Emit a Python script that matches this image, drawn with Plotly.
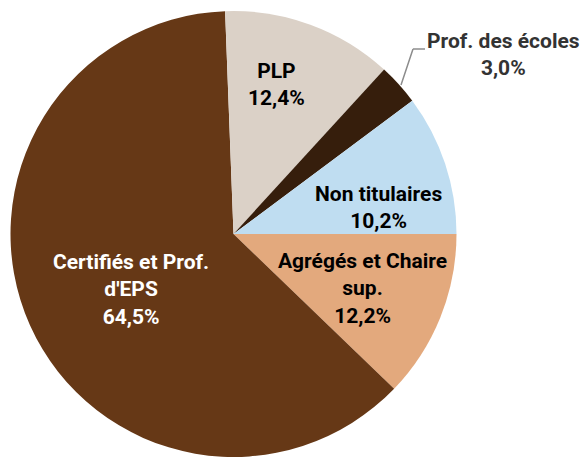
import plotly.graph_objects as go

# Data
categories = ["Agrégés et Chaire sup.", "Certifiés et Prof. d'EPS", "PLP",
              "Prof. des écoles", "Non titulaires"]
slice_shares = [12.2, 62.2, 12.4, 3.0, 10.2]
pct_labels = ["12,2%", "64,5%", "12,4%", "3,0%", "10,2%"]  # printed percentages
display_names = ["Agrégés et Chaire<br>sup.", "Certifiés et Prof.<br>d'EPS", "PLP",
                 "Prof. des écoles", "Non titulaires"]

colors = ["#E3A97D", "#663816", "#DBD1C7", "#361E0C", "#BFDDF1"]
text_colors = ["#000000", "#FFFFFF", "#000000", "#333333", "#000000"]

W, H = 580, 457
FONT = "Roboto, Liberation Sans, Arial, sans-serif"

fig = go.Figure(go.Pie(
    labels=categories,
    values=slice_shares,
    sort=False,
    direction="clockwise",
    rotation=90,
    marker=dict(colors=colors, line=dict(width=0)),
    textinfo="none",
    hoverinfo="label+percent",
    showlegend=False,
    domain=dict(x=[9 / W, 458 / W], y=[0, 1 - 11 / H]),
))

# label anchor positions in pixels (centre of text block)
label_px = [(362, 288), (131, 289), (276, 85), (503, 54), (378, 207)]

annotations = []
for name, pct, tc, (px, py) in zip(display_names, pct_labels, text_colors, label_px):
    annotations.append(dict(
        x=px / W, y=1 - py / H, xref="paper", yref="paper",
        text=f"<b>{name}<br>{pct}</b>", showarrow=False,
        font=dict(family=FONT, size=21, color=tc),
        xanchor="center", yanchor="middle", align="center",
    ))

# leader line for small slice
shapes = [
    dict(type="line", xref="paper", yref="paper",
         x0=401 / W, y0=1 - 85 / H, x1=413 / W, y1=1 - 49 / H,
         line=dict(color="#8C8C8C", width=1.5)),
    dict(type="line", xref="paper", yref="paper",
         x0=413 / W, y0=1 - 49 / H, x1=425 / W, y1=1 - 49 / H,
         line=dict(color="#8C8C8C", width=1.5)),
]

fig.update_layout(
    width=W, height=H,
    margin=dict(l=0, r=0, t=0, b=0),
    paper_bgcolor="white", plot_bgcolor="white",
    annotations=annotations, shapes=shapes,
)

fig.write_html("out.html",
               config={"displayModeBar": False},
               post_script="document.body.style.margin='0px';document.body.style.overflow='hidden';")
